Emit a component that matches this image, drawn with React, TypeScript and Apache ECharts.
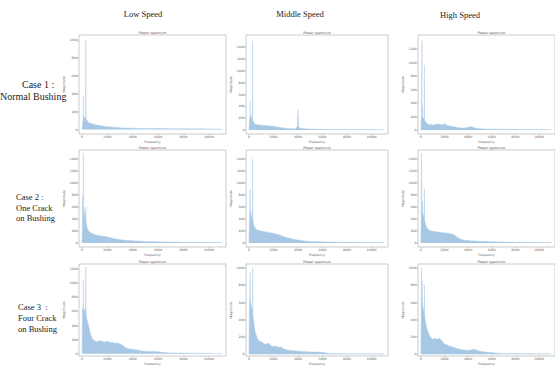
import React, { useEffect, useRef } from "react";
import * as echarts from "echarts";

// Shared frequency grid (Hz)
const FREQ = [
  0, 30, 60, 90, 100, 110, 130, 160, 200, 250,
  280, 300, 320, 350, 400, 450, 500, 600, 700, 800,
  900, 1000, 1200, 1400, 1600, 1800, 2000, 2200, 2400, 2600,
  2800, 3000, 3200, 3400, 3600, 3800, 3950, 4000, 4050, 4200,
  4400, 4600, 4800, 5000, 5500, 6000, 6500, 7000, 7500, 8000,
  8500, 9000, 9500, 10000, 10500, 11025,
];

const LOW_CASE1 = [
  5, 60, 90, 120, 380, 110, 150, 130, 140, 120,
  140, 1010, 130, 110, 90, 100, 80, 70, 75, 60,
  65, 55, 50, 45, 40, 35, 32, 30, 26, 24,
  22, 20, 18, 17, 16, 15, 14, 18, 14, 14,
  13, 15, 13, 12, 13, 11, 11, 10, 10, 9,
  9, 8, 8, 7, 6, 4,
];
const MIDDLE_CASE1 = [
  5, 120, 180, 230, 490, 200, 260, 240, 220, 200,
  180, 1500, 170, 150, 130, 110, 100, 90, 95, 85,
  88, 80, 78, 75, 70, 68, 62, 55, 48, 42,
  36, 30, 26, 22, 20, 18, 60, 340, 60, 30,
  26, 22, 18, 16, 14, 12, 11, 10, 9, 9,
  8, 8, 7, 7, 6, 4,
];
const HIGH_CASE1 = [
  5, 150, 200, 1320, 220, 180, 370, 190, 170, 180,
  160, 960, 150, 140, 120, 110, 100, 85, 80, 75,
  85, 70, 80, 90, 85, 75, 95, 70, 60, 55,
  50, 40, 35, 30, 28, 32, 38, 45, 40, 50,
  42, 30, 22, 18, 15, 13, 12, 11, 10, 10,
  9, 9, 8, 8, 7, 5,
];
const LOW_CASE2 = [
  5, 350, 800, 500, 1500, 450, 600, 550, 500, 420,
  380, 600, 350, 300, 260, 230, 210, 180, 170, 160,
  150, 140, 130, 120, 115, 110, 100, 90, 80, 70,
  62, 55, 50, 45, 42, 40, 38, 40, 36, 34,
  32, 30, 28, 26, 22, 20, 18, 16, 15, 14,
  13, 12, 11, 10, 9, 6,
];
const MIDDLE_CASE2 = [
  5, 300, 500, 700, 900, 420, 550, 500, 480, 420,
  400, 1400, 380, 340, 300, 270, 250, 230, 220, 210,
  205, 200, 190, 185, 175, 170, 160, 150, 140, 125,
  110, 95, 85, 75, 65, 55, 50, 55, 48, 42,
  38, 34, 30, 26, 22, 19, 17, 15, 14, 13,
  12, 11, 10, 9, 8, 6,
];
const HIGH_CASE2 = [
  5, 400, 1500, 600, 500, 450, 700, 500, 480, 450,
  420, 900, 400, 360, 320, 280, 260, 230, 215, 205,
  200, 195, 190, 185, 180, 175, 170, 165, 160, 150,
  140, 110, 80, 60, 50, 45, 42, 45, 40, 38,
  35, 32, 30, 27, 23, 20, 18, 16, 15, 14,
  13, 12, 11, 10, 9, 6,
];
const LOW_CASE3 = [
  10, 650, 600, 700, 1050, 600, 650, 620, 600, 640,
  580, 1230, 560, 520, 480, 440, 410, 330, 260, 220,
  200, 180, 170, 190, 175, 165, 180, 160, 165, 150,
  155, 140, 120, 90, 75, 70, 65, 68, 62, 60,
  55, 45, 40, 38, 35, 30, 18, 14, 12, 11,
  10, 10, 9, 8, 7, 5,
];
const MIDDLE_CASE3 = [
  10, 500, 650, 700, 950, 600, 620, 580, 550, 520,
  500, 1000, 480, 420, 380, 320, 260, 220, 180, 160,
  145, 150, 125, 115, 130, 100, 90, 95, 80, 85,
  65, 55, 50, 45, 42, 38, 36, 38, 35, 34,
  33, 30, 28, 27, 25, 22, 10, 8, 7, 7,
  6, 6, 6, 5, 5, 4,
];
const HIGH_CASE3 = [
  10, 450, 1000, 600, 850, 550, 600, 560, 540, 500,
  480, 800, 460, 420, 380, 340, 300, 260, 230, 200,
  190, 170, 185, 175, 185, 150, 120, 110, 95, 90,
  80, 70, 62, 55, 50, 48, 46, 50, 46, 50,
  55, 58, 45, 35, 25, 20, 12, 10, 9, 8,
  8, 7, 7, 6, 6, 4,
];

const COLUMN_TITLES = ["Low Speed", "Middle Speed", "High Speed"];
const ROW_LABELS = [
  ["Case 1 :", "Normal Bushing"],
  ["Case 2 :", "One Crack", "on Bushing"],
  ["Case 3  :", "Four Crack", "on Bushing"],
];
const X_TICKS = [0, 2000, 4000, 6000, 8000, 10000];
const Y_TICKS_1000 = [0, 200, 400, 600, 800, 1000];
const Y_TICKS_1200 = [0, 200, 400, 600, 800, 1000, 1200];
const Y_TICKS_1400 = [0, 200, 400, 600, 800, 1000, 1200, 1400];

// panels, row-major
const PANEL_VALUES = [
  LOW_CASE1, MIDDLE_CASE1, HIGH_CASE1,
  LOW_CASE2, MIDDLE_CASE2, HIGH_CASE2,
  LOW_CASE3, MIDDLE_CASE3, HIGH_CASE3,
];
const PANEL_YTICKS = [
  Y_TICKS_1000, Y_TICKS_1400, Y_TICKS_1200,
  Y_TICKS_1400, Y_TICKS_1400, Y_TICKS_1400,
  Y_TICKS_1200, Y_TICKS_1000, Y_TICKS_1000,
];

// layout (pixels / axis extents)
const COL_LEFT = [79, 246, 418];
const COL_WIDTH = [147, 142, 147];
const ROW_TOP = [35, 150, 264];
const ROW_HEIGHT = [99, 97, 95];
const Y_RANGE = [
  [-50, 1060], [-67, 1602], [-59, 1407],
  [-67, 1550], [-67, 1550], [-67, 1550],
  [-30, 1268], [-20, 1045], [-20, 1045],
];

const TICK_FONT = "DejaVu Sans";
const SERIF = "Liberation Serif";
const FILL = "#a6c8e4";

export default function App() {
  const ref = useRef<HTMLDivElement>(null);

  useEffect(() => {
    if (!ref.current) return;
    const chart = echarts.init(ref.current, undefined, { renderer: "svg" });

    const grids: any[] = [];
    const xAxes: any[] = [];
    const yAxes: any[] = [];
    const series: any[] = [];
    const graphics: any[] = [];
    const plain = (v: number) => String(v);

    PANEL_VALUES.forEach((vals, i) => {
      const r = Math.floor(i / 3);
      const c = i % 3;
      const left = COL_LEFT[c];
      const top = ROW_TOP[r];
      const width = COL_WIDTH[c];
      const height = ROW_HEIGHT[r];
      grids.push({
        left,
        top,
        width,
        height,
        show: true,
        borderColor: "#aaa",
        borderWidth: 0.6,
        backgroundColor: "transparent",
        containLabel: false,
      });
      xAxes.push({
        type: "value",
        gridIndex: i,
        min: -240,
        max: 11350,
        axisLine: { show: false, onZero: false },
        splitLine: { show: false },
        axisTick: {
          show: true,
          customValues: X_TICKS,
          length: 1.5,
          lineStyle: { color: "#888", width: 0.4 },
        },
        axisLabel: {
          customValues: X_TICKS,
          formatter: plain,
          fontSize: 3.2,
          color: "#666",
          margin: 1.5,
          fontFamily: TICK_FONT,
        },
        name: "Frequency",
        nameLocation: "middle",
        nameGap: 6,
        nameTextStyle: { fontSize: 3.2, color: "#666", fontFamily: TICK_FONT },
      });
      const ticks = PANEL_YTICKS[i];
      yAxes.push({
        type: "value",
        gridIndex: i,
        min: Y_RANGE[i][0],
        max: Y_RANGE[i][1],
        axisLine: { show: false, onZero: false },
        splitLine: { show: false },
        axisTick: {
          show: true,
          customValues: ticks,
          length: 1.5,
          lineStyle: { color: "#888", width: 0.4 },
        },
        axisLabel: {
          customValues: ticks,
          formatter: plain,
          fontSize: 3.2,
          color: "#666",
          margin: 1.5,
          fontFamily: TICK_FONT,
        },
        name: "Magnitude",
        nameLocation: "middle",
        nameGap: 10,
        nameRotate: 90,
        nameTextStyle: { fontSize: 3.2, color: "#666", fontFamily: TICK_FONT },
      });
      series.push({
        type: "line",
        xAxisIndex: i,
        yAxisIndex: i,
        data: FREQ.map((f, k) => [f, vals[k]]),
        symbol: "none",
        clip: true,
        lineStyle: { width: 0.5, color: "#b4d1ea" },
        areaStyle: { color: FILL, opacity: 1 },
        silent: true,
      });
      graphics.push({
        type: "text",
        x: left + width / 2,
        y: top - 2.5,
        style: {
          text: "Power spectrum",
          fontSize: 3.4,
          fill: "#555",
          fontFamily: TICK_FONT,
          align: "center",
          verticalAlign: "middle",
        },
      });
    });

    const headerX = [143, 300, 460];
    const headerY = [14, 14, 15];
    COLUMN_TITLES.forEach((t, c) => {
      graphics.push({
        type: "text",
        x: headerX[c],
        y: headerY[c],
        style: {
          text: t,
          fontSize: 8.5,
          fill: "#222",
          fontFamily: SERIF,
          align: "center",
          verticalAlign: "middle",
        },
      });
    });

    const rowLabelX = [[22, 0], [16, 16, 16], [18, 18, 18]];
    const rowLabelY = [[84, 96], [197, 208, 218], [307, 318, 329]];
    const rowLabelSize = [10, 8.5, 8.5];
    ROW_LABELS.forEach((lines, r) => {
      lines.forEach((line, k) => {
        graphics.push({
          type: "text",
          x: rowLabelX[r][k],
          y: rowLabelY[r][k],
          style: {
            text: line,
            fontSize: rowLabelSize[r],
            fill: "#222",
            fontFamily: SERIF,
            align: "left",
            verticalAlign: "middle",
          },
        });
      });
    });

    chart.setOption({
      animation: false,
      backgroundColor: "#ffffff",
      grid: grids,
      xAxis: xAxes,
      yAxis: yAxes,
      series,
      graphic: graphics,
    });

    return () => chart.dispose();
  }, []);

  return (
    <div
      ref={ref}
      style={{ position: "fixed", left: 0, top: 0, width: 555, height: 366 }}
    />
  );
}
